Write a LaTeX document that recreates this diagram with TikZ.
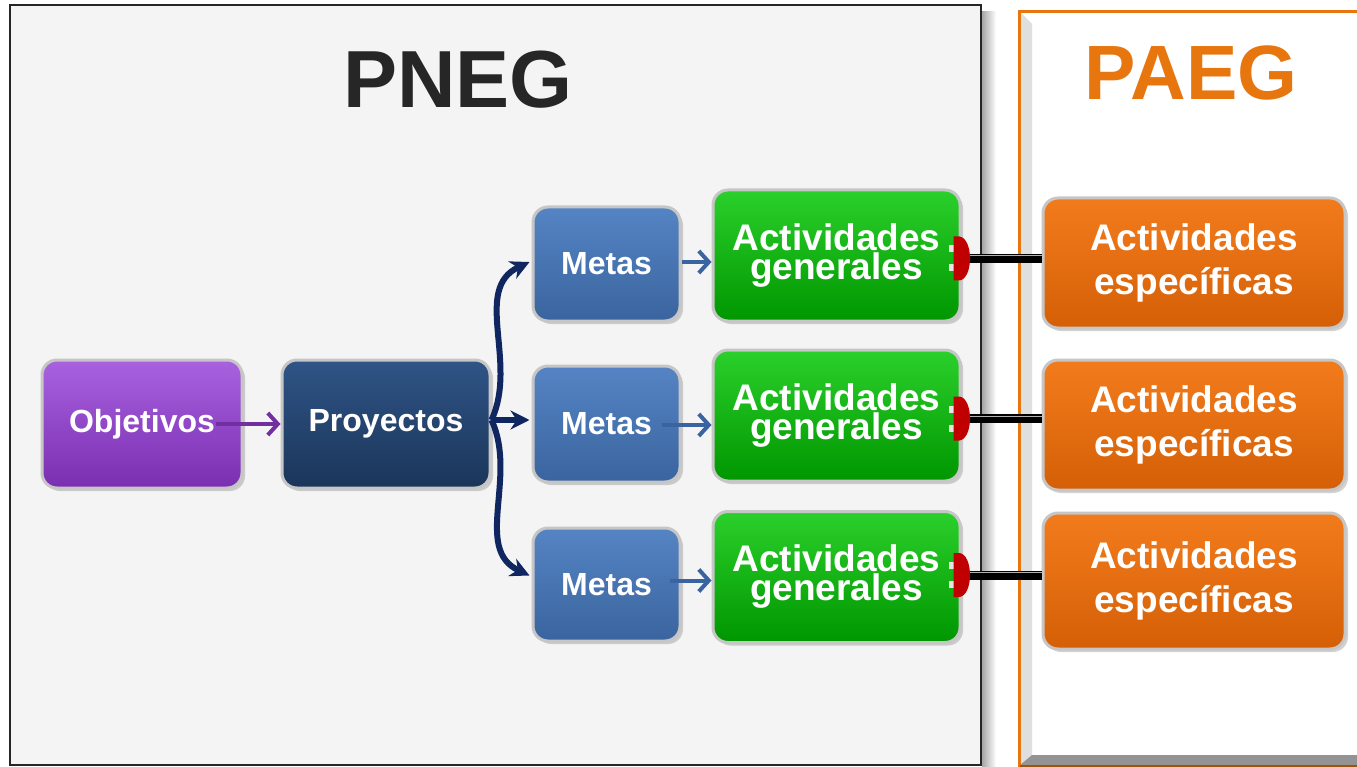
\documentclass[tikz,border=0pt]{standalone}
\usepackage{fontspec}
\setmainfont{Liberation Sans}
\usetikzlibrary{arrows.meta,shadows}
\definecolor{frameBg}{HTML}{F4F4F4}
\definecolor{paegOr}{HTML}{E8760F}
\definecolor{purTop}{HTML}{A862E0}
\definecolor{purBot}{HTML}{7A2EB0}
\definecolor{navTop}{HTML}{2F5486}
\definecolor{navBot}{HTML}{1B3559}
\definecolor{metTop}{HTML}{5584C4}
\definecolor{metBot}{HTML}{3A649E}
\definecolor{grnTop}{HTML}{2BD02B}
\definecolor{grnBot}{HTML}{009600}
\definecolor{oraTop}{HTML}{F27C1C}
\definecolor{oraBot}{HTML}{D55F06}
\definecolor{arrPur}{HTML}{7030A0}
\definecolor{arrNav}{HTML}{0F2660}
\definecolor{arrMet}{HTML}{3A64A0}
\definecolor{capRed}{HTML}{C00000}
\tikzset{
  boxbase/.style={rounded corners=15pt, draw=gray!45, line width=3pt,
    text=white, font=\bfseries\fontsize{32}{34}\selectfont, align=center,
    drop shadow={opacity=0.35, shadow xshift=3pt, shadow yshift=-3pt}},
  purbox/.style={boxbase, top color=purTop, bottom color=purBot},
  navbox/.style={boxbase, top color=navTop, bottom color=navBot},
  metbox/.style={boxbase, top color=metTop, bottom color=metBot,
    minimum width=147pt},
  grnbox/.style={boxbase, top color=grnTop, bottom color=grnBot,
    minimum width=247pt, minimum height=131pt,
    font=\bfseries\fontsize{37}{29}\selectfont},
  orabox/.style={boxbase, top color=oraTop, bottom color=oraBot,
    minimum width=302pt, minimum height=130pt,
    font=\bfseries\fontsize{37}{44}\selectfont},
  thinarrow/.style={line width=4pt, -{Straight Barb[length=10pt,width=22pt,line width=4pt]}},
  fatarrow/.style={line width=6pt, arrNav, -{Stealth[length=19pt,width=19pt]}},
  barlink/.style={line width=9pt, black},
  titlefont/.style={font=\bfseries\fontsize{81}{81}\selectfont, anchor=base}
}
\begin{document}
\begin{tikzpicture}[x=1pt,y=-1pt]
\useasboundingbox (0,0) rectangle (1357,767);
\fill[white] (0,0) rectangle (1357,767);
% PNEG frame with right shadow
\shade[left color=gray!70, right color=white] (982,12) rectangle (996,767);
\draw[fill=frameBg, line width=2.5pt, draw=black!85] (10,5) rectangle (981,765);
% PAEG frame
\fill[white] (1018,10) rectangle (1357,767);
\fill[gray!25] (1020,12) -- (1032,24) -- (1032,755) -- (1020,765) -- cycle;
\fill[gray!85] (1020,765) -- (1032,755) -- (1357,755) -- (1357,765) -- cycle;
\draw[paegOr, line width=3pt] (1019.5,767) -- (1019.5,11.5) -- (1357,11.5);
\draw[paegOr!70!black, line width=2pt] (1020,766) -- (1357,766);
% titles
\node[titlefont, text=black!85] (tpneg) at (458,108) {PNEG};
\node[titlefont, text=paegOr, font=\bfseries\fontsize{77}{77}\selectfont] (tpaeg) at (1191,100) {PAEG};
% boxes
\node[purbox, minimum width=200pt, minimum height=128pt] (obj) at (142,424) {Objetivos};
\node[navbox, minimum width=208pt, minimum height=128pt] (proy) at (386,424) {Proyectos};
\node[metbox, minimum height=114pt] (m1) at (606.5,264) {Metas};
\node[metbox, minimum height=116pt] (m2) at (606.5,424) {Metas};
\node[metbox, minimum height=113pt] (m3) at (606.5,584.5) {Metas};
\node[grnbox] (g1) at (836.5,255.5) {Actividades\\generales};
\node[grnbox] (g2) at (836.5,415.5) {Actividades\\generales};
\node[grnbox] (g3) at (836.5,577) {Actividades\\generales};
\node[orabox] (e1) at (1194,263) {Actividades\\específicas};
\node[orabox] (e2) at (1194,425) {Actividades\\específicas};
\node[orabox, minimum height=136pt] (e3) at (1194,581) {Actividades\\específicas};
% arrows
\draw[thinarrow, arrPur] ([xshift=-28pt]obj.east) -- (proy.west);
\draw[fatarrow] ([yshift=4pt]proy.east) to[out=65,in=205] ([xshift=-2pt,yshift=2pt]m1.west);
\draw[fatarrow] ([yshift=4pt]proy.east) -- ([xshift=-2pt,yshift=4pt]m2.west);
\draw[fatarrow] ([yshift=4pt]proy.east) to[out=-65,in=155] ([xshift=-2pt,yshift=9pt]m3.west);
\draw[thinarrow, arrMet] ([yshift=2pt]m1.east) -- ([yshift=2pt]m1.east -| g1.west);
\draw[thinarrow, arrMet] ([xshift=-20pt,yshift=-1pt]m2.east) -- ([yshift=-1pt]m2.east -| g2.west);
\draw[thinarrow, arrMet] ([xshift=-12pt,yshift=4pt]m3.east) -- ([yshift=4pt]m3.east -| g3.west);
% links generales -> especificas
\foreach \g/\e/\dy in {g1/e1/-3, g2/e2/-3, g3/e3/2}{
  \draw[barlink] ([yshift=\dy pt]\g.east) -- ([yshift=\dy pt]\g.east -| \e.west);
  \draw[gray!60, line width=1pt] ([yshift=\dy pt + 2.5pt]\g.east) -- ([yshift=\dy pt + 2.5pt]\g.east -| \e.west);
  \fill[gray!20] ([xshift=-13pt,yshift=\dy pt + 13pt]\g.east) rectangle ([xshift=-6pt,yshift=\dy pt + 6pt]\g.east);
  \fill[gray!20] ([xshift=-13pt,yshift=\dy pt - 6pt]\g.east) rectangle ([xshift=-6pt,yshift=\dy pt - 13pt]\g.east);
  \fill[capRed] ([xshift=-8pt,yshift=\dy pt - 22pt]\g.east) -- ([xshift=-2pt,yshift=\dy pt - 22pt]\g.east)
    .. controls ([xshift=12pt,yshift=\dy pt - 20pt]\g.east) and ([xshift=12pt,yshift=\dy pt + 20pt]\g.east) ..
    ([xshift=-2pt,yshift=\dy pt + 22pt]\g.east) -- ([xshift=-8pt,yshift=\dy pt + 22pt]\g.east) -- cycle;
}
\end{tikzpicture}
\end{document}
